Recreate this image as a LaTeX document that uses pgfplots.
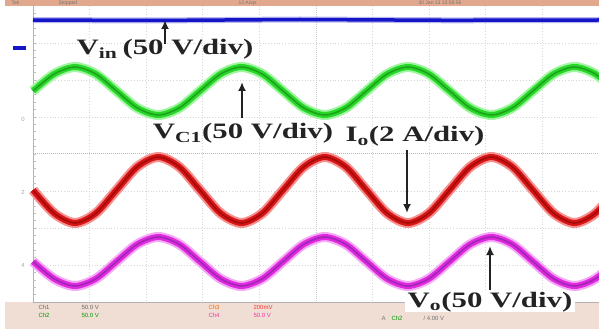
\documentclass[border=0pt]{standalone}
\usepackage{pgfplots}
\pgfplotsset{compat=1.18}
\usepackage{pgfplotstable}
\usepackage{fontspec}
\setmainfont{Liberation Serif}
\newfontfamily\scopefont{Liberation Sans}
\usetikzlibrary{arrows.meta}
\definecolor{gHalo}{RGB}{160,245,160}
\definecolor{gCore}{RGB}{40,215,40}
\definecolor{gMid}{RGB}{30,160,30}
\definecolor{rHalo}{RGB}{245,145,145}
\definecolor{rCore}{RGB}{215,20,20}
\definecolor{rMid}{RGB}{160,10,10}
\definecolor{mHalo}{RGB}{245,170,245}
\definecolor{mCore}{RGB}{225,40,225}
\definecolor{mMid}{RGB}{155,40,175}
\definecolor{bCore}{RGB}{20,20,200}
\definecolor{topbar}{RGB}{226,168,142}
\definecolor{botbar}{RGB}{240,222,212}
\definecolor{txt}{RGB}{35,35,35}
\definecolor{gridc}{RGB}{215,215,215}

\pgfplotstableread{
x g r m
33 91 190 261.5
54.2 74 213.3 278.8
75 67 223 286
95.8 74 213.3 278.8
116.6 91 190 261.5
137.4 108 166.7 244.2
158.3 115 157 237
179.1 108 166.7 244.2
199.9 91 190 261.5
220.7 74 213.3 278.8
241.5 67 223 286
262.3 74 213.3 278.8
283.1 91 190 261.5
303.9 108 166.7 244.2
324.8 115 157 237
345.6 108 166.7 244.2
366.4 91 190 261.5
387.2 74 213.3 278.8
408 67 223 286
428.8 74 213.3 278.8
449.6 91 190 261.5
470.4 108 166.7 244.2
491.3 115 157 237
512.1 108 166.7 244.2
532.9 91 190 261.5
553.7 74 213.3 278.8
574.5 67 223 286
595.3 74 213.3 278.8
616.1 91 190 261.5
}\waves

\pgfplotstableread{
x b
33 20
150 20.5
300 19.5
450 20.3
599 20
}\vin

\begin{document}
\begin{tikzpicture}
\begin{axis}[width=599pt,height=331pt,scale only axis,
  xmin=0,xmax=599,ymin=0,ymax=331,y dir=reverse,
  axis lines=none,clip=true]
% bars
\fill[topbar] (axis cs:5,0) rectangle (axis cs:599,6);
\fill[botbar] (axis cs:5,302) rectangle (axis cs:599,329);
% grid
\pgfplotsinvokeforeach{43,80,117,191,228,265}{
  \draw[gridc, dotted, line width=0.8pt] (axis cs:33,#1) -- (axis cs:599,#1);}
\pgfplotsinvokeforeach{89.6,146.2,202.8,259.4,372.6,429.2,485.8,542.4}{
  \draw[gridc, dotted, line width=0.8pt] (axis cs:#1,6) -- (axis cs:#1,302);}
\draw[gray!55, densely dotted, line width=1pt] (axis cs:33,154) -- (axis cs:599,154);
\draw[gray!40, densely dotted, line width=1pt] (axis cs:316,6) -- (axis cs:316,302);
\draw[gray!60, line width=0.8pt] (axis cs:33,6) -- (axis cs:33,302) -- (axis cs:599,302);
\pgfplotsinvokeforeach{13.4,20.8,28.2,35.6,43,50.4,57.8,65.2,72.6,80,87.4,94.8,102.2,109.6,117,124.4,131.8,139.2,146.6,154,161.4,168.8,176.2,183.6,191,198.4,205.8,213.2,220.6,228,235.4,242.8,250.2,257.6,265,272.4,279.8,287.2,294.6}{
  \draw[gray!50, line width=0.6pt] (axis cs:33,#1) -- (axis cs:36,#1);}
% channel markers
\fill[bCore] (axis cs:13,46) rectangle (axis cs:26,50);
\node[font=\scopefont\fontsize{6}{6}\selectfont, text=gray!70] at (axis cs:23,119) {0};
\node[font=\scopefont\fontsize{6}{6}\selectfont, text=gray!70] at (axis cs:23,192) {2};
\node[font=\scopefont\fontsize{6}{6}\selectfont, text=gray!70] at (axis cs:23,265) {4};
% waveforms
\addplot[bCore!60, line width=6pt, opacity=0.5, mark=none] table[x=x,y=b]{\vin};
\addplot[bCore, line width=3.5pt, mark=none] table[x=x,y=b]{\vin};
\addplot[gHalo, line width=10pt, smooth, mark=none] table[x=x,y=g]{\waves};
\addplot[gCore, line width=6pt, smooth, mark=none] table[x=x,y=g]{\waves};
\addplot[gMid, line width=1.5pt, smooth, mark=none] table[x=x,y=g]{\waves};
\addplot[rHalo, line width=10pt, smooth, mark=none] table[x=x,y=r]{\waves};
\addplot[rCore, line width=6pt, smooth, mark=none] table[x=x,y=r]{\waves};
\addplot[rMid, line width=1.5pt, smooth, mark=none] table[x=x,y=r]{\waves};
\addplot[mHalo, line width=10pt, smooth, mark=none] table[x=x,y=m]{\waves};
\addplot[mCore, line width=6pt, smooth, mark=none] table[x=x,y=m]{\waves};
\addplot[mMid, line width=1.5pt, smooth, mark=none] table[x=x,y=m]{\waves};
% scope status text
\node[font=\scopefont\fontsize{5}{5}\selectfont, text=black!55, anchor=west] at (axis cs:8,3) {Tek};
\node[font=\scopefont\fontsize{5}{5}\selectfont, text=black!55, anchor=west] at (axis cs:55,3) {Stopped};
\node[font=\scopefont\fontsize{5}{5}\selectfont, text=black!55, anchor=west] at (axis cs:235,3) {13 Acqs};
\node[font=\scopefont\fontsize{5}{5}\selectfont, text=black!55, anchor=west] at (axis cs:415,3) {30 Jan 13 13:59:56};
\node[font=\scopefont\fontsize{6}{6}\selectfont, text=black!60, anchor=west] at (axis cs:35,307) {Ch1};
\node[font=\scopefont\fontsize{6}{6}\selectfont, text=green!60!black, anchor=west] at (axis cs:35,315) {Ch2};
\node[font=\scopefont\fontsize{6}{6}\selectfont, text=black!60, anchor=west] at (axis cs:78,307) {50.0 V};
\node[font=\scopefont\fontsize{6}{6}\selectfont, text=green!60!black, anchor=west] at (axis cs:78,315) {50.0 V};
\node[font=\scopefont\fontsize{6}{6}\selectfont, text=orange!80!red, anchor=west] at (axis cs:205,307) {Ch3};
\node[font=\scopefont\fontsize{6}{6}\selectfont, text=magenta!80, anchor=west] at (axis cs:205,315) {Ch4};
\node[font=\scopefont\fontsize{6}{6}\selectfont, text=red!80, anchor=west] at (axis cs:250,307) {200mV};
\node[font=\scopefont\fontsize{6}{6}\selectfont, text=magenta!80, anchor=west] at (axis cs:250,315) {50.0 V};
\node[font=\scopefont\fontsize{6}{6}\selectfont, text=black!55, anchor=west] at (axis cs:378,318) {A};
\node[font=\scopefont\fontsize{6}{6}\selectfont, text=green!60!black, anchor=west] at (axis cs:388,318) {Ch2};
\node[font=\scopefont\fontsize{6}{6}\selectfont, text=black!55, anchor=west] at (axis cs:420,318) {/ 4.00 V};
% annotations
\draw[txt, line width=2.6pt, -{Latex[length=9pt,width=8pt]}] (axis cs:165,44) -- (axis cs:165,20);
\draw[txt, line width=2.6pt, -{Latex[length=9pt,width=8pt]}] (axis cs:242,118) -- (axis cs:242,82);
\draw[txt, line width=2.6pt, -{Latex[length=9pt,width=8pt]}] (axis cs:407,150) -- (axis cs:407,213);
\draw[txt, line width=2.6pt, -{Latex[length=9pt,width=8pt]}] (axis cs:490,290) -- (axis cs:490,246);
\node[anchor=base, text=txt, inner sep=0pt, font=\fontsize{22}{24}\selectfont\bfseries] at (axis cs:165,55) {\scalebox{1.4}[1]{V\textsubscript{in}\,(50 V/div)}};
\node[anchor=base, text=txt, inner sep=0pt, font=\fontsize{22}{24}\selectfont\bfseries] at (axis cs:243,139) {\scalebox{1.4}[1]{V\textsubscript{C1}(50 V/div)}};
\node[anchor=base, text=txt, inner sep=0pt, font=\fontsize{22}{24}\selectfont\bfseries] at (axis cs:415,142) {\scalebox{1.4}[1]{I\textsubscript{o}(2 A/div)}};
\node[anchor=base, text=txt, fill=white, inner xsep=3pt, inner ysep=0pt, font=\fontsize{22}{24}\selectfont\bfseries] at (axis cs:490,307) {\scalebox{1.4}[1]{V\textsubscript{o}(50 V/div)}};
\end{axis}
\pgfresetboundingbox
\path (current axis.south west) rectangle (current axis.north east);
\end{tikzpicture}
\end{document}
